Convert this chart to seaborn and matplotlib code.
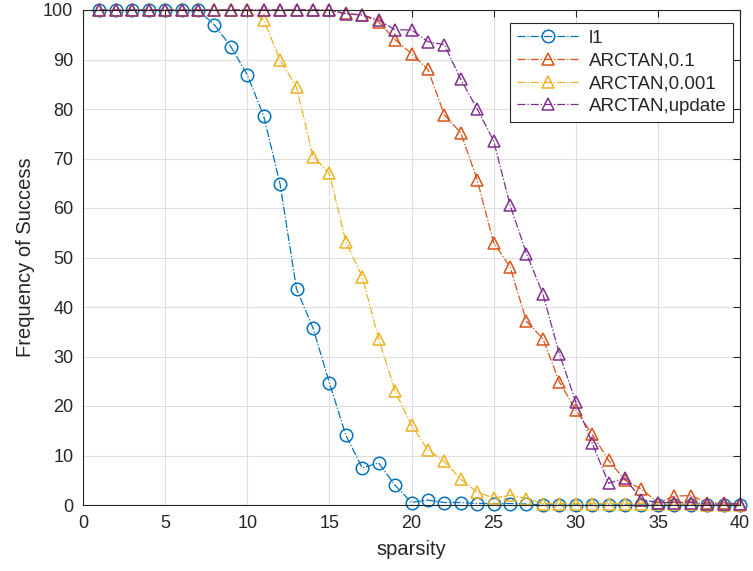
import numpy as np
import pandas as pd
import matplotlib
matplotlib.use("Agg")
import matplotlib.pyplot as plt
import seaborn as sns

sparsity = list(range(1, 41))

l1 = [100, 100, 100, 100, 100, 100, 100, 97, 92.6, 86.9,
      78.6, 64.8, 43.6, 35.8, 24.7, 14.1, 7.5, 8.5, 4, 0.5,
      1, 0.5, 0.5, 0.3, 0.3, 0.3, 0.2, 0, 0, 0,
      0, 0, 0, 0, 0, 0, 0, 0, 0, 0]

arctan_01 = [100, 100, 100, 100, 100, 100, 100, 100, 100, 100,
             100, 100, 100, 100, 100, 99.3, 99, 97.6, 94, 91.2,
             88, 78.8, 75.2, 65.7, 53, 48.1, 37.1, 33.6, 24.9, 19.2,
             14.3, 9, 5, 3.2, 0.5, 1.8, 1.9, 0.5, 0.5, 0.2]

arctan_0001 = [100, 100, 100, 100, 100, 100, 100, 100, 100, 100,
               98, 89.9, 84.4, 70.4, 67, 53.2, 46.1, 33.6, 23, 16.1,
               11.1, 8.8, 5.2, 2.6, 1.4, 2, 1.3, 0.3, 0.3, 0.3,
               0.3, 0.3, 0.3, 0.3, 0.2, 0.2, 0.2, 0.1, 0.1, 0]

arctan_update = [100, 100, 100, 100, 100, 100, 100, 100, 100, 100,
                 100, 100, 100, 100, 100, 99.2, 99, 98, 96, 96,
                 93.6, 93, 86, 80, 73.6, 60.6, 50.8, 42.6, 30.6, 20.8,
                 12.5, 4.4, 5.4, 1.1, 0.5, 0.5, 0.5, 0.2, 0.2, 0.2]

series = [
    ("l1", l1, "o", "#0072BD"),
    ("ARCTAN,0.1", arctan_01, "^", "#D95319"),
    ("ARCTAN,0.001", arctan_0001, "^", "#EDB120"),
    ("ARCTAN,update", arctan_update, "^", "#7E2F8E"),
]

sns.set_style("white")
plt.rcParams["font.family"] = ["Liberation Sans", "DejaVu Sans"]

fig = plt.figure(figsize=(7.53, 5.71), dpi=100)
ax = fig.add_axes([83 / 753, 1 - 505 / 571, (740 - 83) / 753, (505 - 10) / 571])

for name, vals, mk, col in series:
    df = pd.DataFrame({"sparsity": sparsity, "freq": vals})
    sns.lineplot(data=df, x="sparsity", y="freq", ax=ax, label=name,
                 color=col, linestyle="-.", linewidth=0.9,
                 marker=mk, markersize=9, markerfacecolor="none",
                 markeredgecolor=col, markeredgewidth=1.1, clip_on=False)

ax.set_xlim(0, 40)
ax.set_ylim(0, 100)
ax.set_xticks(np.arange(0, 41, 5))
ax.set_yticks(np.arange(0, 101, 10))
ax.grid(True, color="#dedede", linewidth=0.8)
ax.set_axisbelow(True)

for s in ax.spines.values():
    s.set_visible(True)
    s.set_color("#262626")
    s.set_linewidth(0.8)

ax.tick_params(direction="in", length=5, width=0.8, colors="#262626",
               labelsize=13, top=True, right=True, pad=7)
ax.set_xlabel("sparsity", fontsize=14.5, color="#262626", labelpad=6)
ax.set_ylabel("Frequency of Success", fontsize=14.5, color="#262626", labelpad=6)

leg = ax.legend(loc="upper right", bbox_to_anchor=(0.998, 0.985),
                fontsize=13.5, frameon=True, fancybox=False,
                edgecolor="#262626", framealpha=1, handlelength=3.4,
                borderpad=0.35, labelspacing=0.3, handletextpad=0.45,
                borderaxespad=0.3)
leg.get_frame().set_linewidth(0.8)

fig.savefig("out.png", dpi=100)
